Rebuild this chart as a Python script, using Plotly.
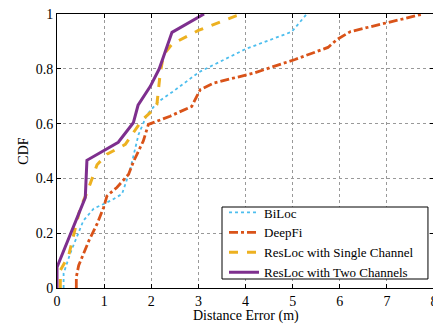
import plotly.graph_objects as go

biloc_x = [0.14, 0.14, 0.28, 0.56, 0.78, 1.13, 1.38, 1.55, 1.73, 1.91, 2.15, 2.47, 2.89, 3.04, 3.46, 4.0, 4.98, 5.3]
biloc_y = [0.0, 0.053, 0.126, 0.246, 0.29, 0.318, 0.343, 0.43, 0.56, 0.633, 0.68, 0.718, 0.772, 0.79, 0.826, 0.872, 0.935, 1.0]

deepfi_x = [0.41, 0.41, 0.46, 0.67, 0.85, 0.99, 1.06, 1.27, 1.52, 1.62, 1.83, 1.94, 2.4, 2.86, 3.04, 3.32, 4.17, 5.05, 5.75, 5.95, 6.23, 6.99, 7.77]
deepfi_y = [0.0, 0.04, 0.082, 0.17, 0.234, 0.294, 0.336, 0.367, 0.415, 0.46, 0.536, 0.597, 0.627, 0.663, 0.724, 0.748, 0.784, 0.834, 0.878, 0.908, 0.936, 0.968, 1.0]

single_x = [0.07, 0.07, 0.25, 0.49, 0.64, 0.85, 1.06, 1.45, 1.8, 2.01, 2.12, 2.19, 2.26, 2.44, 3.0, 3.46, 3.81, 3.95]
single_y = [0.0, 0.064, 0.12, 0.29, 0.35, 0.45, 0.488, 0.524, 0.612, 0.645, 0.67, 0.784, 0.851, 0.89, 0.94, 0.97, 0.994, 1.0]

two_x = [0.0, 0.0, 0.6, 0.635, 1.3, 1.62, 1.72, 1.98, 2.17, 2.44, 3.12]
two_y = [0.0, 0.076, 0.33, 0.466, 0.532, 0.603, 0.667, 0.736, 0.8, 0.933, 1.0]

x_ticks = [0, 1, 2, 3, 4, 5, 6, 7, 8]
y_ticks = [0, 0.2, 0.4, 0.6, 0.8, 1]
y_tick_text = ["0", "0.2", "0.4", "0.6", "0.8", "1"]

fig = go.Figure()
fig.add_trace(go.Scatter(x=biloc_x, y=biloc_y, mode="lines", name="BiLoc",
                         line=dict(color="#4DBEEE", width=1.8, dash="dot")))
fig.add_trace(go.Scatter(x=deepfi_x, y=deepfi_y, mode="lines", name="DeepFi",
                         line=dict(color="#D95319", width=2.8, dash="dashdot")))
fig.add_trace(go.Scatter(x=single_x, y=single_y, mode="lines", name="ResLoc with Single Channel",
                         line=dict(color="#EDB120", width=3, dash="dash")))
fig.add_trace(go.Scatter(x=two_x, y=two_y, mode="lines", name="ResLoc with Two Channels",
                         line=dict(color="#7E2F8E", width=3)))

font_family = "Liberation Serif"
fig.update_layout(
    width=433, height=325,
    margin=dict(l=49, r=7, t=6, b=45, autoexpand=False),
    paper_bgcolor="white", plot_bgcolor="white",
    font=dict(family=font_family, size=14, color="black"),
    showlegend=True,
    legend=dict(x=0.443, y=0.166, xanchor="left", yanchor="middle",
                bgcolor="rgba(0,0,0,0)", borderwidth=0,
                font=dict(family=font_family, size=13, color="black"),
                tracegroupgap=0, itemwidth=30),
    shapes=[
        dict(type="rect", xref="paper", yref="paper", x0=0.4377, x1=0.984, y0=0.0328, y1=0.2956,
             line=dict(color="black", width=1), fillcolor="white", layer="above"),
    ],
    annotations=[
        dict(text="Distance Error (m)", xref="paper", yref="paper", x=0.5, y=-0.102,
             xanchor="center", yanchor="middle", showarrow=False,
             font=dict(family=font_family, size=14, color="black")),
        dict(text="CDF", xref="paper", yref="paper", x=-0.091, y=0.5, textangle=-90,
             xanchor="center", yanchor="middle", showarrow=False,
             font=dict(family=font_family, size=14, color="black")),
    ],
)
fig.update_xaxes(range=[0, 8], tickvals=x_ticks, showline=True, linecolor="black", linewidth=1,
                 mirror="ticks", ticks="inside", ticklen=4, tickcolor="black", automargin=False,
                 ticklabeloverflow="allow",
                 showgrid=True, gridcolor="#999", griddash="dot", gridwidth=1, zeroline=False)
fig.update_yaxes(range=[0, 1], tickvals=y_ticks, ticktext=y_tick_text, showline=True, linecolor="black", linewidth=1,
                 mirror="ticks", ticks="inside", ticklen=4, tickcolor="black", automargin=False,
                 ticklabeloverflow="allow",
                 showgrid=True, gridcolor="#999", griddash="dot", gridwidth=1, zeroline=False)

fig.write_html("out.html")
